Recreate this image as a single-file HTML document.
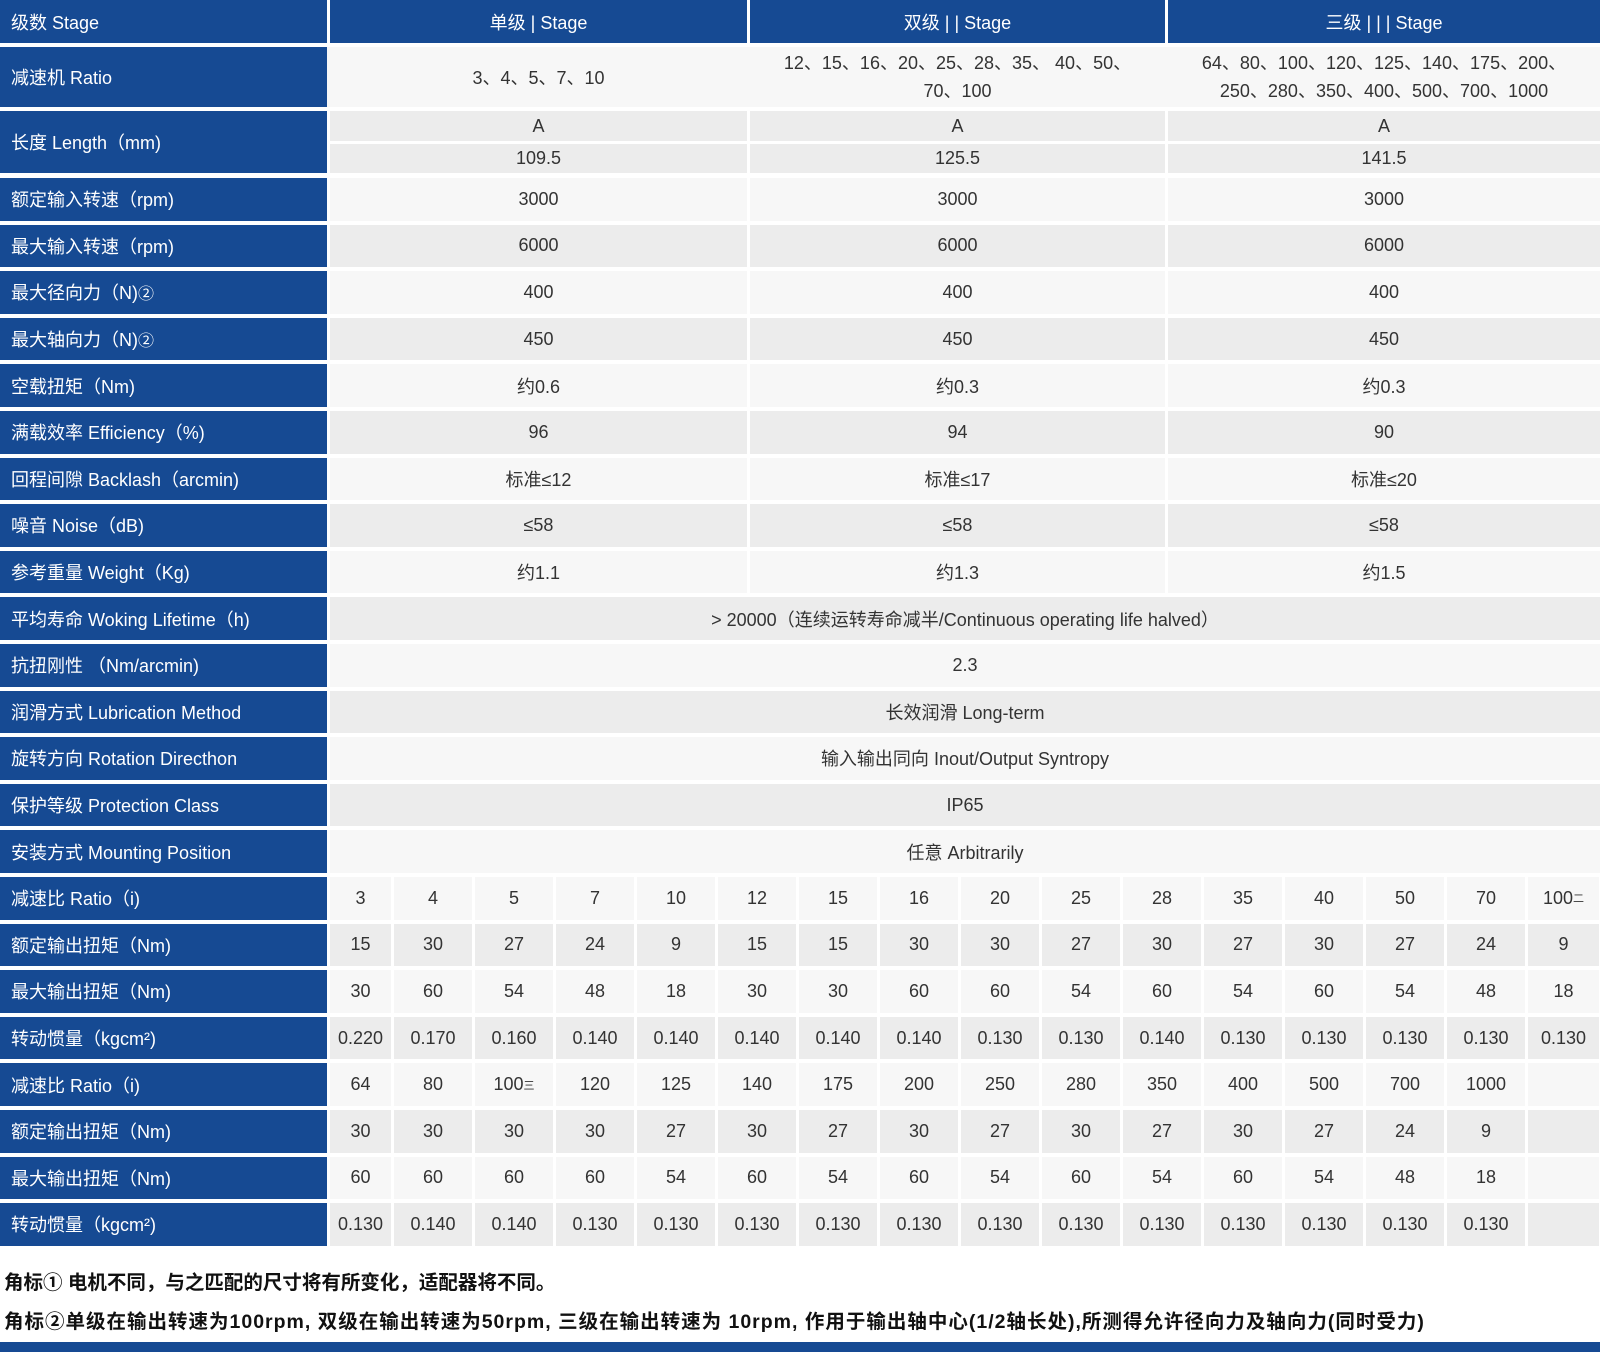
<!DOCTYPE html>
<html><head><meta charset="utf-8"><style>
*{margin:0;padding:0;box-sizing:border-box}
body{width:1600px;height:1352px;background:#fff;position:relative;overflow:hidden;font-family:"Liberation Sans","Noto Sans CJK SC",sans-serif;font-size:18px;color:#333}
.r{position:absolute;left:0;width:1600px;display:flex;gap:3px;height:42.6px}
.r>div{display:flex;align-items:center;justify-content:center;height:100%;white-space:nowrap}
.r>div.l{width:327px;background:#164a93;color:#fff;justify-content:flex-start;padding-left:11px}
.a{background:#f7f7f7}.b{background:#ececec}
.w1{width:417px}.w2{width:415px}.w3{width:432px}.wm{width:1270px}
.s0{width:61px}.s{width:78px}.sl{width:71px}
.h>div{background:#164a93!important;color:#fff}
sup{font-size:11px;vertical-align:8px}
sup.c{font-size:16px;vertical-align:6px}
.fn{position:absolute;left:4px;font-size:19.5px;color:#111;font-weight:bold}
</style></head><body>

<div class="r h" style="top:0;height:43px"><div class="l">级数 Stage</div><div class="w1">单级 | Stage</div><div class="w2">双级 | | Stage</div><div class="w3">三级 | | | Stage</div></div>

<div class="r a" style="top:47px;height:60px"><div class="l">减速机 Ratio</div><div class="w1 a">3、4、5、7、10</div><div class="w2 a" style="white-space:normal;text-align:center;line-height:28px;padding:0 20px">12、15、16、20、25、28、35、 40、50、70、100</div><div class="w3 a" style="white-space:normal;text-align:center;line-height:28px;padding:0 20px">64、80、100、120、125、140、175、200、250、280、350、400、500、700、1000</div></div>

<div class="r" style="top:111px;height:62px"><div class="l">长度 Length（mm)</div></div>
<div class="r" style="top:111px;height:30px;left:330px;width:1270px"><div class="w1 b">A</div><div class="w2 b">A</div><div class="w3 b">A</div></div>
<div class="r" style="top:144px;height:29px;left:330px;width:1270px"><div class="w1 b">109.5</div><div class="w2 b">125.5</div><div class="w3 b">141.5</div></div>

<div class="r" style="top:178px"><div class="l">额定输入转速（rpm)</div><div class="w1 a">3000</div><div class="w2 a">3000</div><div class="w3 a">3000</div></div>
<div class="r" style="top:224.6px"><div class="l">最大输入转速（rpm)</div><div class="w1 b">6000</div><div class="w2 b">6000</div><div class="w3 b">6000</div></div>
<div class="r" style="top:271.2px"><div class="l">最大径向力（N)<sup class="c">②</sup></div><div class="w1 a">400</div><div class="w2 a">400</div><div class="w3 a">400</div></div>
<div class="r" style="top:317.8px"><div class="l">最大轴向力（N)<sup class="c">②</sup></div><div class="w1 b">450</div><div class="w2 b">450</div><div class="w3 b">450</div></div>
<div class="r" style="top:364.4px"><div class="l">空载扭矩（Nm)</div><div class="w1 a">约0.6</div><div class="w2 a">约0.3</div><div class="w3 a">约0.3</div></div>
<div class="r" style="top:411px"><div class="l">满载效率 Efficiency（%)</div><div class="w1 b">96</div><div class="w2 b">94</div><div class="w3 b">90</div></div>
<div class="r" style="top:457.6px"><div class="l">回程间隙 Backlash（arcmin)</div><div class="w1 a">标准≤12</div><div class="w2 a">标准≤17</div><div class="w3 a">标准≤20</div></div>
<div class="r" style="top:504.2px"><div class="l">噪音 Noise（dB)</div><div class="w1 b">≤58</div><div class="w2 b">≤58</div><div class="w3 b">≤58</div></div>
<div class="r" style="top:550.8px"><div class="l">参考重量 Weight（Kg)</div><div class="w1 a">约1.1</div><div class="w2 a">约1.3</div><div class="w3 a">约1.5</div></div>
<div class="r" style="top:597.4px"><div class="l">平均寿命 Woking Lifetime（h)</div><div class="wm b">&gt; 20000（连续运转寿命减半/Continuous operating life halved）</div></div>
<div class="r" style="top:644px"><div class="l">抗扭刚性 （Nm/arcmin)</div><div class="wm a">2.3</div></div>
<div class="r" style="top:690.6px"><div class="l">润滑方式 Lubrication Method</div><div class="wm b">长效润滑 Long-term</div></div>
<div class="r" style="top:737.2px"><div class="l">旋转方向 Rotation Directhon</div><div class="wm a">输入输出同向 Inout/Output Syntropy</div></div>
<div class="r" style="top:783.8px"><div class="l">保护等级 Protection Class</div><div class="wm b">IP65</div></div>
<div class="r" style="top:830.4px"><div class="l">安装方式 Mounting Position</div><div class="wm a">任意 Arbitrarily</div></div>

<div class="r" style="top:877px"><div class="l">减速比 Ratio（i)</div><div class="s0 a">3</div><div class="s a">4</div><div class="s a">5</div><div class="s a">7</div><div class="s a">10</div><div class="s a">12</div><div class="s a">15</div><div class="s a">16</div><div class="s a">20</div><div class="s a">25</div><div class="s a">28</div><div class="s a">35</div><div class="s a">40</div><div class="s a">50</div><div class="s a">70</div><div class="sl a">100<sup>二</sup></div></div>
<div class="r" style="top:923.6px"><div class="l">额定输出扭矩（Nm)</div><div class="s0 b">15</div><div class="s b">30</div><div class="s b">27</div><div class="s b">24</div><div class="s b">9</div><div class="s b">15</div><div class="s b">15</div><div class="s b">30</div><div class="s b">30</div><div class="s b">27</div><div class="s b">30</div><div class="s b">27</div><div class="s b">30</div><div class="s b">27</div><div class="s b">24</div><div class="sl b">9</div></div>
<div class="r" style="top:970.2px"><div class="l">最大输出扭矩（Nm)</div><div class="s0 a">30</div><div class="s a">60</div><div class="s a">54</div><div class="s a">48</div><div class="s a">18</div><div class="s a">30</div><div class="s a">30</div><div class="s a">60</div><div class="s a">60</div><div class="s a">54</div><div class="s a">60</div><div class="s a">54</div><div class="s a">60</div><div class="s a">54</div><div class="s a">48</div><div class="sl a">18</div></div>
<div class="r" style="top:1016.8px"><div class="l">转动惯量（kgcm²)</div><div class="s0 b">0.220</div><div class="s b">0.170</div><div class="s b">0.160</div><div class="s b">0.140</div><div class="s b">0.140</div><div class="s b">0.140</div><div class="s b">0.140</div><div class="s b">0.140</div><div class="s b">0.130</div><div class="s b">0.130</div><div class="s b">0.140</div><div class="s b">0.130</div><div class="s b">0.130</div><div class="s b">0.130</div><div class="s b">0.130</div><div class="sl b">0.130</div></div>
<div class="r" style="top:1063.4px"><div class="l">减速比 Ratio（i)</div><div class="s0 a">64</div><div class="s a">80</div><div class="s a">100<sup>三</sup></div><div class="s a">120</div><div class="s a">125</div><div class="s a">140</div><div class="s a">175</div><div class="s a">200</div><div class="s a">250</div><div class="s a">280</div><div class="s a">350</div><div class="s a">400</div><div class="s a">500</div><div class="s a">700</div><div class="s a">1000</div><div class="sl a"></div></div>
<div class="r" style="top:1110px"><div class="l">额定输出扭矩（Nm)</div><div class="s0 b">30</div><div class="s b">30</div><div class="s b">30</div><div class="s b">30</div><div class="s b">27</div><div class="s b">30</div><div class="s b">27</div><div class="s b">30</div><div class="s b">27</div><div class="s b">30</div><div class="s b">27</div><div class="s b">30</div><div class="s b">27</div><div class="s b">24</div><div class="s b">9</div><div class="sl b"></div></div>
<div class="r" style="top:1156.6px"><div class="l">最大输出扭矩（Nm)</div><div class="s0 a">60</div><div class="s a">60</div><div class="s a">60</div><div class="s a">60</div><div class="s a">54</div><div class="s a">60</div><div class="s a">54</div><div class="s a">60</div><div class="s a">54</div><div class="s a">60</div><div class="s a">54</div><div class="s a">60</div><div class="s a">54</div><div class="s a">48</div><div class="s a">18</div><div class="sl a"></div></div>
<div class="r" style="top:1203.2px"><div class="l">转动惯量（kgcm²)</div><div class="s0 b">0.130</div><div class="s b">0.140</div><div class="s b">0.140</div><div class="s b">0.130</div><div class="s b">0.130</div><div class="s b">0.130</div><div class="s b">0.130</div><div class="s b">0.130</div><div class="s b">0.130</div><div class="s b">0.130</div><div class="s b">0.130</div><div class="s b">0.130</div><div class="s b">0.130</div><div class="s b">0.130</div><div class="s b">0.130</div><div class="sl b"></div></div>

<div class="fn" style="top:1266px">角标① 电机不同，与之匹配的尺寸将有所变化，适配器将不同。</div>
<div class="fn" style="top:1305px;letter-spacing:1px">角标②单级在输出转速为100rpm, 双级在输出转速为50rpm, 三级在输出转速为 10rpm, 作用于输出轴中心(1/2轴长处),所测得允许径向力及轴向力(同时受力)</div>
<div style="position:absolute;left:0;top:1342px;width:1600px;height:10px;background:#164a93"></div>
</body></html>
